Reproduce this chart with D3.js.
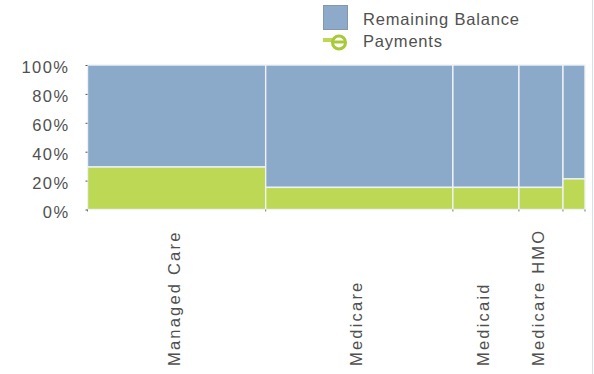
<!DOCTYPE html>
<html><head><meta charset="utf-8">
<script src="https://cdn.jsdelivr.net/npm/d3@7"></script>
<style>body{margin:0;background:#fff}svg{display:block;font-family:"Liberation Sans",Arial,sans-serif}</style>
</head><body><svg id="c" width="594" height="374"></svg>
<script>
const categories = ["Managed Care","Medicare","Medicaid","Medicare HMO",""];
const totals = [178,187,66,44,22];
const paymentsPct = [29.4,15.3,15.3,15.3,21.2];
const remainingPct = paymentsPct.map(p=>100-p);
const yTicks = [0,20,40,60,80,100];
const seriesNames = ["Remaining Balance","Payments"];
const colors = {"Remaining Balance":"#8ba9c9","Payments":"#bcd855"};

const svg = d3.select("#c");
const L=87.5, R=585, T=65, B=209.5;
const sum = d3.sum(totals);
const x = d3.scaleLinear().domain([0,sum]).range([L,R]);
const y = d3.scaleLinear().domain([0,100]).range([B,T]);
const cum = d3.cumsum(totals);
const starts = totals.map((t,i)=>cum[i]-t);
const textCol = "#505050";

// right panel border
svg.append("line").attr("x1",592.5).attr("x2",592.5).attr("y1",0).attr("y2",374).attr("stroke","#d8dfe8");

const g = svg.append("g");
categories.forEach((c,i)=>{
  const x0=x(starts[i]), x1=x(cum[i]);
  g.append("rect").attr("x",x0).attr("width",x1-x0).attr("y",y(100)).attr("height",y(paymentsPct[i])-y(100))
    .attr("fill",colors["Remaining Balance"]).attr("stroke","#eef2f6").attr("stroke-width",1.4);
  g.append("rect").attr("x",x0).attr("width",x1-x0).attr("y",y(paymentsPct[i])).attr("height",y(0)-y(paymentsPct[i]))
    .attr("fill",colors["Payments"]).attr("stroke","#eef2f6").attr("stroke-width",1.4);
});

// y axis
const ya = svg.append("g").attr("transform",`translate(${L},0)`)
  .call(d3.axisLeft(y).tickValues(yTicks).tickFormat(d=>d+"%").tickSize(2).tickPadding(16));
ya.select(".domain").remove();
ya.selectAll("line").attr("stroke","#555");
ya.selectAll("text").attr("fill",textCol).style("font-size","16.5px").style("letter-spacing","1.45px").attr("dy","0.47em");

// bottom ticks at boundaries
svg.append("g").selectAll("line").data([0,...cum]).join("line")
  .attr("x1",d=>x(d)).attr("x2",d=>x(d)).attr("y1",B).attr("y2",B+2).attr("stroke","#777");

// category labels
svg.append("g").selectAll("text").data(categories).join("text")
  .attr("transform",(d,i)=>`translate(${x(starts[i]+totals[i]/2)},366) rotate(-90)`)
  .attr("dy",3).attr("text-anchor","start")
  .attr("fill",textCol).style("font-size","16.5px").style("letter-spacing","2.2px").text(d=>d);

// legend
const lg = svg.append("g");
lg.append("rect").attr("x",323.5).attr("y",5.5).attr("width",24).attr("height",24)
  .attr("fill","#8eaacb").attr("stroke","#8a96a6").attr("stroke-width",1);
lg.append("text").attr("x",363).attr("y",25).attr("fill",textCol).style("font-size","16.5px").style("letter-spacing","0.8px").text(seriesNames[0]);
lg.append("line").attr("x1",323).attr("x2",333).attr("y1",40).attr("y2",40).attr("stroke",colors["Payments"]).attr("stroke-width",4);
lg.append("circle").attr("cx",339).attr("cy",42.5).attr("r",6.5).attr("fill","#fff").attr("stroke","#a8c93a").attr("stroke-width",3);
lg.append("line").attr("x1",333).attr("x2",345).attr("y1",42).attr("y2",42).attr("stroke","#a8c93a").attr("stroke-width",3);
lg.append("text").attr("x",363).attr("y",47).attr("fill",textCol).style("font-size","16.5px").style("letter-spacing","0.8px").text(seriesNames[1]);
</script></body></html>
